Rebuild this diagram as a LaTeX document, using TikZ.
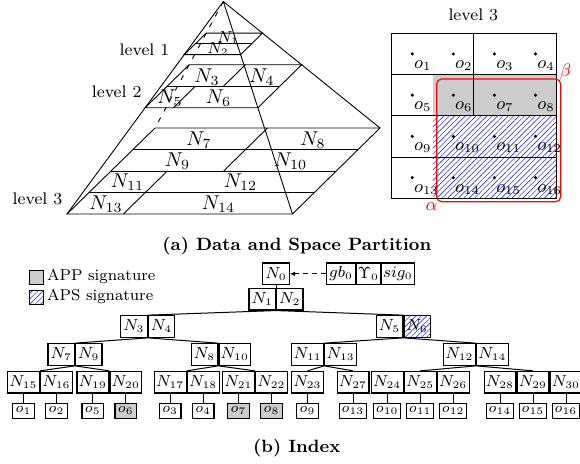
\documentclass[tikz,border=0pt]{standalone}
\usetikzlibrary{calc,patterns.meta,arrows.meta}
\begin{document}
\begin{tikzpicture}[x=0.5pt,y=-0.5pt,
  pl/.style={line width=0.45pt},
  hidden/.style={line width=0.45pt, dash pattern=on 2.5pt off 3.5pt},
  lvl/.style={font=\fontsize{8.4}{9}\selectfont, inner sep=0pt},
  plab/.style={font=\fontsize{9.6}{10}\selectfont, inner sep=0pt},
  plabs/.style={font=\fontsize{7.6}{8}\selectfont, inner sep=0pt},
  tcell/.style={draw, line width=0.6pt, minimum height=10.75pt, inner sep=0pt, font=\fontsize{7.6}{8}\selectfont},
  ncs/.style={tcell, minimum width=13.2pt},
  ncd/.style={tcell, minimum width=15.9pt},
  obox/.style={draw, line width=0.6pt, minimum height=7.5pt, inner sep=0pt, font=\fontsize{7.5}{8}\selectfont},
  oss/.style={obox, minimum width=10.8pt},
  osd/.style={obox, minimum width=13.6pt},
  appfill/.style={fill=black!20},
  apsfill/.style={pattern={Lines[angle=45,distance=1.9pt,line width=0.22pt]}, pattern color=blue},
  tline/.style={line width=0.5pt},
  olab/.style={font=\fontsize{8.8}{9}\selectfont, inner sep=0pt, anchor=north west},
  gdot/.style={fill=black},
  captext/.style={font=\fontsize{8.9}{10}\selectfont\bfseries, inner sep=0pt},
  legtext/.style={font=\fontsize{7.9}{9}\selectfont, inner sep=0pt, anchor=west}
]
\useasboundingbox (0,0) rectangle (580,463);

% ---------------- pyramid ----------------
\coordinate (A) at (223.3,1.5);
\coordinate (FL) at (67,214);
\coordinate (FR) at (292.5,214);
\coordinate (BR) at (380,128);
\coordinate (BL) at (155,128);
% level 1
\coordinate (FLa) at (184.225,54.625);
\coordinate (FRa) at (240.6,54.625);
\coordinate (BRa) at (262.475,33.125);
\coordinate (BLa) at (206.225,33.125);
% level 2
\coordinate (FLb) at (145.15,107.75);
\coordinate (FRb) at (257.9,107.75);
\coordinate (BRb) at (301.65,64.75);
\coordinate (BLb) at (189.15,64.75);

\draw[pl] (BLa) -- (BRa) -- (FRa) -- (FLa) -- cycle;
\draw[pl] ($(BLa)!0.5!(FLa)$) coordinate (La1) -- ($(BRa)!0.5!(FRa)$) coordinate (Ra1);

\draw[pl] (BLb) -- (BRb) -- (FRb) -- (FLb) -- cycle;
\draw[pl] ($(BLb)!0.5!(FLb)$) coordinate (Lb1) -- ($(BRb)!0.5!(FRb)$) coordinate (Rb1);
\draw[pl] ($(BLb)!0.5!(BRb)$) -- ($(Lb1)!0.5!(Rb1)$);
\draw[pl] ($(Lb1)!0.25!(Rb1)$) -- ($(FLb)!0.25!(FRb)$);

\draw[pl] (BL) -- (BR) -- (FR) -- (FL) -- cycle;
\draw[pl] ($(BL)!0.25!(FL)$) coordinate (Lc1) -- ($(BR)!0.25!(FR)$) coordinate (Rc1);
\draw[pl] ($(BL)!0.5!(FL)$) coordinate (Lc2) -- ($(BR)!0.5!(FR)$) coordinate (Rc2);
\draw[pl] ($(BL)!0.75!(FL)$) coordinate (Lc3) -- ($(BR)!0.75!(FR)$) coordinate (Rc3);
\draw[pl] ($(BL)!0.5!(BR)$) -- ($(Lc2)!0.5!(Rc2)$);
\draw[pl] ($(Lc2)!0.25!(Rc2)$) -- ($(FL)!0.25!(FR)$);

\draw[pl] (A) -- (FL);
\draw[pl] (A) -- (FR);
\draw[pl] (A) -- (BR);
\draw[hidden] (A) -- (BL);

\node[plabs] (p1) at (228,38.3) {$N_1$};
\node[plabs] (p2) at (218,49.3) {$N_2$};
\node[plab] (p3) at (207,77.5) {$N_3$};
\node[plab] (p4) at (262,77.5) {$N_4$};
\node[plab] (p5) at (170,98) {$N_5$};
\node[plab] (p6) at (218.5,98) {$N_6$};
\node[plab] (p7) at (199,140) {$N_7$};
\node[plab] (p8) at (313,140) {$N_8$};
\node[plab] (p9) at (177.5,161) {$N_9$};
\node[plab] (p10) at (290.5,161) {$N_{10}$};
\node[plab] (p11) at (127.5,182) {$N_{11}$};
\node[plab] (p12) at (240.5,182) {$N_{12}$};
\node[plab] (p13) at (106,204) {$N_{13}$};
\node[plab] (p14) at (218.5,204) {$N_{14}$};

\node[lvl] (lv1) at (144.5,49.3) {level 1};
\node[lvl] (lv2) at (116.7,91.7) {level 2};
\node[lvl] (lv3) at (37.5,199) {level 3};

% ---------------- grid ----------------
\node[lvl] (gtitle) at (473.3,15) {level 3};
\fill[appfill] (432.775,74.55) rectangle (556,115.8);
\fill[apsfill] (432.775,115.8) rectangle (556,198.3);
\draw[pl] (391.7,33.3) rectangle (556,198.3);
\draw[pl] (391.7,74.55) -- (556,74.55);
\draw[pl] (391.7,115.8) -- (556,115.8);
\draw[pl] (391.7,157.05) -- (556,157.05);
\draw[pl] (473.85,33.3) -- (473.85,115.8);

\foreach \r in {0,1,2,3}{
  \foreach \c in {0,1,2,3}{
    \pgfmathtruncatemacro{\k}{\r*4+\c+1}
    \pgfmathsetmacro{\cx}{412.24+\c*41.075}
    \pgfmathsetmacro{\cy}{53.9+\r*41.25}
    \fill[gdot] (\cx,\cy) circle (0.85pt);
    \node[olab] (go\k) at (\cx+1.5,\cy+6.3) {$o_{\k}$};
  }
}

\draw[red, line width=0.6pt, rounded corners=2.5pt] (436.7,79) rectangle (560.7,201.7);
\node[red, font=\fontsize{9.5}{10}\selectfont, inner sep=0pt] (alpha) at (431.5,207) {$\alpha$};
\node[red, font=\fontsize{9.5}{10}\selectfont, inner sep=0pt] (beta) at (565.5,72) {$\beta$};

% ---------------- captions & legend ----------------
\node[captext] (capa) at (296.8,246) {(a) Data and Space Partition};
\node[captext] (capb) at (296.8,448) {(b) Index};

\node[draw, line width=0.5pt, appfill, minimum size=7pt, inner sep=0pt] (lg1) at (36.3,277.7) {};
\node[legtext] (lt1) at (46.7,276.7) {APP signature};
\node[draw, line width=0.5pt, apsfill, minimum size=7pt, inner sep=0pt] (lg2) at (36.3,297.7) {};
\node[legtext] (lt2) at (46.7,296.7) {APS signature};

% ---------------- tree ----------------
\node[ncs] (n0) at (276,273.8) {$N_0$};
\node[tcell, minimum width=14.5pt, anchor=west] (gb) at (326,273.8) {$gb_0$};
\node[tcell, minimum width=11.65pt, anchor=west] (ups) at (gb.east) {$\Upsilon_0$};
\node[tcell, minimum width=16.7pt, anchor=west] (sig) at (ups.east) {$sig_0$};
\draw[tline, dash pattern=on 2.5pt off 2pt, -{Latex[length=2.6pt,width=2.2pt]}] (gb.west) -- (n0.east);

\node[ncs, anchor=east] (n1) at (276,299.2) {$N_1$};
\node[ncs, anchor=west] (n2) at (276,299.2) {$N_2$};

\node[ncs, anchor=east] (n3) at (147.7,326.5) {$N_3$};
\node[ncs, anchor=west] (n4) at (147.7,326.5) {$N_4$};
\node[ncs, anchor=east] (n5) at (403.3,326.5) {$N_5$};
\node[ncs, anchor=west, apsfill] (n6) at (403.3,326.5) {$N_6$};

\node[ncs, anchor=east] (n7) at (75,354.5) {$N_7$};
\node[ncs, anchor=west] (n9) at (75,354.5) {$N_9$};
\node[ncs, anchor=east] (n8) at (218.3,354.5) {$N_8$};
\node[ncd, anchor=west] (n10) at (218.3,354.5) {$N_{10}$};
\node[ncd, anchor=east] (n11) at (324.2,354.5) {$N_{11}$};
\node[ncd, anchor=west] (n13) at (324.2,354.5) {$N_{13}$};
\node[ncd, anchor=east] (n12) at (476,354.5) {$N_{12}$};
\node[ncd, anchor=west] (n14) at (476,354.5) {$N_{14}$};

\node[ncd, anchor=east] (n15) at (40,382.2) {$N_{15}$};
\node[ncd, anchor=west] (n16) at (40,382.2) {$N_{16}$};
\node[ncd, anchor=east] (n19) at (109.3,382.2) {$N_{19}$};
\node[ncd, anchor=west] (n20) at (109.3,382.2) {$N_{20}$};
\node[ncd, anchor=east] (n17) at (186.7,382.2) {$N_{17}$};
\node[ncd, anchor=west] (n18) at (186.7,382.2) {$N_{18}$};
\node[ncd, anchor=east] (n21) at (255,382.2) {$N_{21}$};
\node[ncd, anchor=west] (n22) at (255,382.2) {$N_{22}$};
\node[ncd] (n23) at (307.5,382.2) {$N_{23}$};
\node[ncd] (n27) at (353,382.2) {$N_{27}$};
\node[ncd] (n24) at (387.2,382.2) {$N_{24}$};
\node[ncd, anchor=west] (n25) at (n24.east) {$N_{25}$};
\node[ncd, anchor=west] (n26) at (n25.east) {$N_{26}$};
\node[ncd] (n28) at (500,382.2) {$N_{28}$};
\node[ncd, anchor=west] (n29) at (n28.east) {$N_{29}$};
\node[ncd, anchor=west] (n30) at (n29.east) {$N_{30}$};

\node[oss] (o1) at (n15 |- 0,410.8) {$o_1$};
\node[oss] (o2) at (n16 |- 0,410.8) {$o_2$};
\node[oss] (o5) at (n19 |- 0,410.8) {$o_5$};
\node[oss, appfill] (o6) at (n20 |- 0,410.8) {$o_6$};
\node[oss] (o3) at (n17 |- 0,410.8) {$o_3$};
\node[oss] (o4) at (n18 |- 0,410.8) {$o_4$};
\node[oss, appfill] (o7) at (n21 |- 0,410.8) {$o_7$};
\node[oss, appfill] (o8) at (n22 |- 0,410.8) {$o_8$};
\node[oss] (o9) at (n23 |- 0,410.8) {$o_9$};
\node[osd] (o13) at (n27 |- 0,410.8) {$o_{13}$};
\node[osd] (o10) at (n24 |- 0,410.8) {$o_{10}$};
\node[osd] (o11) at (n25 |- 0,410.8) {$o_{11}$};
\node[osd] (o12) at (n26 |- 0,410.8) {$o_{12}$};
\node[osd] (o14) at (n28 |- 0,410.8) {$o_{14}$};
\node[osd] (o15) at (n29 |- 0,410.8) {$o_{15}$};
\node[osd] (o16) at (n30 |- 0,410.8) {$o_{16}$};

\draw[tline] (n0.south) -- (n1.north east);
\draw[tline] (n1.south east) -- (n3.north east);
\draw[tline] (n1.south east) -- (n5.north east);
\draw[tline] (n3.south east) -- (n7.north east);
\draw[tline] (n3.south east) -- (n8.north east);
\draw[tline] (n5.south east) -- (n11.north east);
\draw[tline] (n5.south east) -- (n12.north east);
\draw[tline] (n7.south east) -- (n15.north east);
\draw[tline] (n7.south east) -- (n19.north east);
\draw[tline] (n8.south east) -- (n17.north east);
\draw[tline] (n8.south east) -- (n21.north east);
\draw[tline] (n11.south east) -- (n23.north);
\draw[tline] (n11.south east) -- (n27.north);
\draw[tline] (n12.south east) -- (n25.north);
\draw[tline] (n12.south east) -- (n29.north);
\foreach \a/\b in {n15/o1,n16/o2,n19/o5,n20/o6,n17/o3,n18/o4,n21/o7,n22/o8,n23/o9,n27/o13,n24/o10,n25/o11,n26/o12,n28/o14,n29/o15,n30/o16}{
  \draw[tline] (\a.south) -- (\b.north);
}
\end{tikzpicture}
\end{document}
